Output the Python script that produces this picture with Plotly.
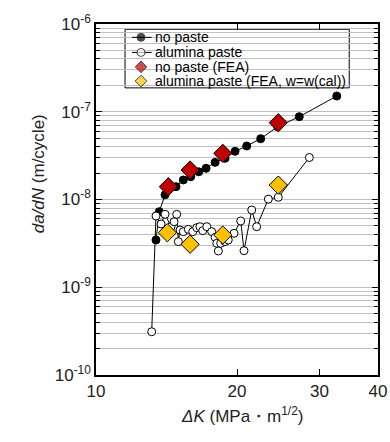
import plotly.graph_objects as go

# ---- data ----
nopaste_dk = [13.43, 13.65, 14.04, 14.82, 15.36, 15.93, 16.57, 17.18, 17.96, 18.86,
              19.81, 20.98, 22.47, 24.43, 27.16, 32.66]
nopaste_rate = [3.46e-9, 7.26e-9, 1.13e-8, 1.40e-8, 1.67e-8, 1.82e-8, 2.07e-8, 2.27e-8,
                2.65e-8, 2.95e-8, 3.54e-8, 4.07e-8, 4.93e-8, 6.76e-8, 8.78e-8, 1.51e-7]

alumina_dk = [13.15, 13.43, 13.77, 14.04, 14.46, 14.68, 14.87, 14.99, 15.11, 15.36,
              15.74, 16.09, 16.41, 16.67, 16.90, 17.24, 17.66, 17.96, 18.11, 18.25,
              18.46, 18.86, 19.16, 19.71, 20.37, 20.70, 21.50, 22.03, 23.33, 24.50, 28.54]
alumina_rate = [3.11e-10, 6.49e-9, 5.26e-9, 6.78e-9, 4.90e-9, 5.58e-9, 6.78e-9, 3.31e-9,
                4.49e-9, 4.30e-9, 4.57e-9, 4.30e-9, 4.77e-9, 4.90e-9, 4.41e-9, 4.90e-9,
                4.30e-9, 3.71e-9, 3.17e-9, 2.59e-9, 3.17e-9, 3.31e-9, 3.46e-9, 4.12e-9,
                5.69e-9, 2.61e-9, 7.59e-9, 4.90e-9, 1.01e-8, 1.06e-8, 3.01e-8]

fea_np_dk = [14.27, 15.88, 18.65, 24.50]
fea_np_rate = [1.40e-8, 2.17e-8, 3.36e-8, 7.50e-8]

fea_al_dk = [14.20, 15.88, 18.65, 24.50]
fea_al_rate = [4.18e-9, 3.09e-9, 3.94e-9, 1.46e-8]

legend_labels = ["no paste", "alumina paste", "no paste (FEA)",
                 "alumina paste (FEA, w=w(cal))"]

x_tickvals = [10, 20, 30, 40]
x_ticktext = ["10", "20", "30", "40"]
y_tickvals = [1e-10, 1e-9, 1e-8, 1e-7, 1e-6]
y_ticktext = ["10<sup>-10</sup>", "10<sup>-9</sup>", "10<sup>-8</sup>",
              "10<sup>-7</sup>", "10<sup>-6</sup>"]

# ---- styles ----
FONT = "Liberation Sans, Arial, sans-serif"
RED = "#C00000"
YEL = "#FFC000"
GRID = "#C0C0C0"

fig = go.Figure()

fig.add_trace(go.Scatter(x=nopaste_dk, y=nopaste_rate, mode="lines+markers",
                         line=dict(color="black", width=1),
                         marker=dict(symbol="circle", size=8, color="black",
                                     line=dict(color="black", width=1)),
                         showlegend=False))
fig.add_trace(go.Scatter(x=alumina_dk, y=alumina_rate, mode="lines+markers",
                         line=dict(color="black", width=1),
                         marker=dict(symbol="circle", size=8, color="white",
                                     line=dict(color="black", width=1)),
                         showlegend=False))
fig.add_trace(go.Scatter(x=fea_np_dk, y=fea_np_rate, mode="markers",
                         marker=dict(symbol="diamond", size=14, color=RED,
                                     line=dict(color="black", width=1)),
                         showlegend=False))
fig.add_trace(go.Scatter(x=fea_al_dk, y=fea_al_rate, mode="markers",
                         marker=dict(symbol="diamond", size=14, color=YEL,
                                     line=dict(color="black", width=1)),
                         showlegend=False))

# ---- manual legend drawn on an overlay axis (0..1 == plot area) ----
leg_x0, leg_x1, leg_y0, leg_y1 = 0.103, 0.898, 0.818, 0.985
row_y = [0.962, 0.919, 0.878, 0.8375]
mk_x = 0.1596
seg = (0.1277, 0.1975)
txt_x = 0.2067

fig.add_shape(type="rect", xref="paper", yref="paper", x0=leg_x0, x1=leg_x1,
              y0=leg_y0, y1=leg_y1, line=dict(color="black", width=1),
              fillcolor="white", layer="below")
leg_syms = ["circle", "circle", "diamond", "diamond"]
leg_fill = ["black", "white", RED, YEL]
leg_size = [8, 8, 9, 9]
for i in range(2):
    fig.add_trace(go.Scatter(x=[seg[0], seg[1]], y=[row_y[i], row_y[i]], xaxis="x2",
                             yaxis="y2", mode="lines", line=dict(color="black", width=1),
                             showlegend=False, hoverinfo="skip"))
fig.add_trace(go.Scatter(x=[mk_x] * 4, y=row_y, xaxis="x2", yaxis="y2", mode="markers",
                         marker=dict(symbol=leg_syms, size=leg_size, color=leg_fill,
                                     line=dict(color="black", width=1)),
                         showlegend=False, hoverinfo="skip"))
for i, lab in enumerate(legend_labels):
    fig.add_annotation(xref="paper", yref="paper", x=txt_x, y=row_y[i], text=lab,
                       showarrow=False, xanchor="left", yanchor="middle", borderpad=0,
                       font=dict(family=FONT, size=14, color="black"))

# axis titles
fig.add_annotation(xref="paper", yref="paper", x=-0.245, y=0.573,
                   text="<i>da/dN</i> (m/cycle)", textangle=-90, showarrow=False,
                   font=dict(family=FONT, size=17, color="#222222"))
fig.add_annotation(xref="paper", yref="paper", x=0.518, y=-0.152,
                   text="<i>ΔK</i> (MPa・m<sup>1/2</sup>)", showarrow=False,
                   font=dict(family=FONT, size=17, color="#222222"))

fig.update_layout(
    width=390, height=442,
    margin=dict(l=96, r=12, t=24, b=67, autoexpand=False),
    paper_bgcolor="white", plot_bgcolor="white",
    font=dict(family=FONT, size=17, color="#222222"),
    showlegend=False,
    xaxis=dict(type="log", range=[1, 1.60206], tickvals=x_tickvals, ticktext=x_ticktext,
               ticks="inside", ticklen=6, tickwidth=1, tickcolor="black",
               showline=True, linecolor="black", linewidth=1.5, mirror="ticks",
               showgrid=False, zeroline=False, tickfont=dict(size=17), automargin=False),
    yaxis=dict(type="log", range=[-10, -6], tickvals=y_tickvals, ticktext=y_ticktext,
               ticks="inside", ticklen=6, tickwidth=1, tickcolor="black",
               showline=True, linecolor="black", linewidth=1.5, mirror="ticks",
               showgrid=True, gridcolor=GRID, gridwidth=1, zeroline=False,
               tickfont=dict(size=17), automargin=False,
               minor=dict(dtick="D1", ticks="inside", ticklen=4, tickcolor="black",
                          showgrid=True, gridcolor=GRID, gridwidth=1)),
    xaxis2=dict(overlaying="x", range=[0, 1], visible=False, fixedrange=True),
    yaxis2=dict(overlaying="y", range=[0, 1], visible=False, fixedrange=True),
)

fig.write_html("out.html", config={"displayModeBar": False},
               post_script="document.body.style.margin='0';document.body.style.overflow='hidden';")
